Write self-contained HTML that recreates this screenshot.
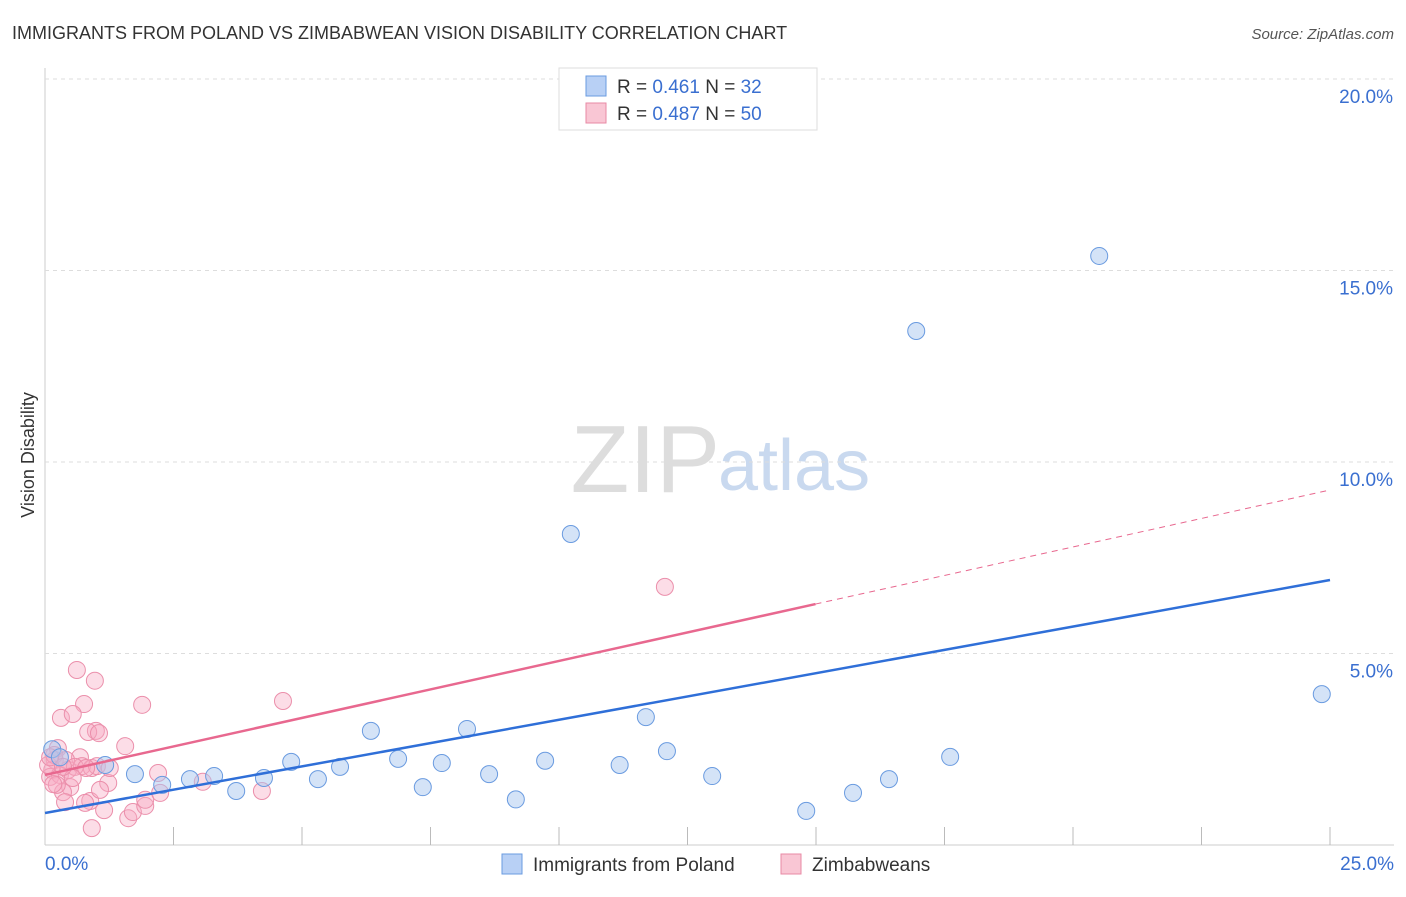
<!DOCTYPE html>
<html><head><meta charset="utf-8"><style>
body{margin:0;background:#fff;font-family:"Liberation Sans",sans-serif;}
svg text{font-family:"Liberation Sans",sans-serif;}
</style></head><body>
<svg id="c" width="1406" height="892">
<text x="12" y="39" font-size="18" fill="#333">IMMIGRANTS FROM POLAND VS ZIMBABWEAN VISION DISABILITY CORRELATION CHART</text>
<text x="1394" y="39" font-size="15" fill="#555" font-style="italic" text-anchor="end">Source: ZipAtlas.com</text>
<text transform="translate(34,455) rotate(-90)" font-size="18" fill="#333" text-anchor="middle">Vision Disability</text>
<text x="720" y="492" font-size="96" fill="#ddd" text-anchor="end" font-family="Liberation Serif">ZIP</text>
<text x="718" y="490" font-size="72" fill="#c9d9ef">atlas</text>
<g id="grid"></g><g id="marks"></g>
<g>
<rect x="559" y="68" width="258" height="62" fill="#fff" stroke="#ddd"/>
<rect x="586" y="76" width="20" height="20" fill="#b8d0f5" stroke="#6a9be0"/>
<text x="617" y="93" font-size="19" fill="#333">R = <tspan fill="#3a6fd0">0.461</tspan>   N = <tspan fill="#3a6fd0">32</tspan></text>
<rect x="586" y="103" width="20" height="20" fill="#f9c6d4" stroke="#e88aa5"/>
<text x="617" y="120" font-size="19" fill="#333">R = <tspan fill="#3a6fd0">0.487</tspan>   N = <tspan fill="#3a6fd0">50</tspan></text>
</g>
<g>
<rect x="502" y="854" width="20" height="20" fill="#b8d0f5" stroke="#6a9be0"/>
<text x="533" y="871" font-size="19" fill="#333">Immigrants from Poland</text>
<rect x="781" y="854" width="20" height="20" fill="#f9c6d4" stroke="#e88aa5"/>
<text x="812" y="871" font-size="19" fill="#333">Zimbabweans</text>
</g>
</svg>
<script>
const yTicks=[5,10,15,20];
const yTickLabels=["5.0%","10.0%","15.0%","20.0%"];
const xLabels=["0.0%","25.0%"];
const polandX=[0.14,0.29,1.17,1.75,2.28,2.82,3.29,3.72,4.26,4.79,5.31,5.74,6.34,6.87,7.35,7.72,8.21,8.64,9.16,9.73,10.23,11.18,11.69,12.10,12.98,14.81,15.72,16.42,16.95,17.61,20.51,24.84];
const polandY=[2.5,2.29,2.09,1.85,1.57,1.72,1.8,1.41,1.75,2.17,1.72,2.04,2.98,2.25,1.51,2.14,3.03,1.85,1.19,2.2,8.12,2.09,3.34,2.45,1.8,0.89,1.36,1.72,13.42,2.3,15.38,3.94];
const zimX=[0.62,0.97,0.76,0.31,0.54,1.89,4.63,1.56,0.99,0.84,1.05,0.68,0.25,0.19,0.14,0.10,0.29,0.45,0.72,0.91,0.49,0.35,0.39,0.88,0.78,1.23,1.15,1.62,0.91,1.71,1.95,1.95,2.20,2.24,3.07,4.22,12.06,0.06,0.18,0.41,0.58,1.01,0.23,0.54,1.26,0.10,0.16,0.35,0.80,1.07];
const zimY=[4.57,4.29,3.68,3.32,3.42,3.66,3.76,2.58,2.98,2.95,2.92,2.29,2.53,2.22,1.96,1.78,1.83,1.96,2.06,2.01,1.51,1.38,1.12,1.15,1.10,1.62,0.91,0.70,0.44,0.86,1.02,1.18,1.88,1.36,1.65,1.41,6.74,2.09,2.35,2.22,2.04,2.06,1.57,1.75,2.01,2.29,1.59,2.04,2.01,1.44];
const polandTrend=[0.836,6.92];
const zimTrend=[1.83,9.27];
const zimSolidEnd=14.99;
const X0=45,X1=1330,Y0=845,PX=38.3;
const sx=v=>X0+(X1-X0)*v/25, sy=v=>Y0-v*PX;
const NS="http://www.w3.org/2000/svg";
function mk(t,a,p){const e=document.createElementNS(NS,t);for(const k in a)e.setAttribute(k,a[k]);p.appendChild(e);return e;}
const g=document.getElementById('grid'),m=document.getElementById('marks');
let ax=mk('line',{x1:X0,y1:68,x2:X0,y2:Y0,stroke:'#ccc'},g);


let bx=mk('line',{x1:X0,y1:Y0,x2:1394,y2:Y0,stroke:'#ccc'},g);


yTicks.forEach((t,i)=>{
 const l=mk('line',{x1:X0,y1:sy(t),x2:1394,y2:sy(t),stroke:'#ddd','stroke-dasharray':'4,4'},g);
 
 
 const tx=mk('text',{x:1393,y:sy(t)+24,'font-size':19,fill:'#3a6fd0','text-anchor':'end'},g);tx.textContent=yTickLabels[i];
 
 
});
for(let i=1;i<=10;i++){const x=X0+i*128.5;const l=mk('line',{x1:x,y1:Y0-18,x2:x,y2:Y0,stroke:'#bbb'},g);
 
 }
[[X0,'start',xLabels[0]],[1394,'end',xLabels[1]]].forEach(([x,a,s])=>{const t=mk('text',{x:x,y:870,'font-size':19,fill:'#3a6fd0','text-anchor':a},g);t.textContent=s;
 
 });
zimX.forEach((x,i)=>{const c=mk('circle',{cx:sx(x),cy:sy(zimY[i]),r:8.5,fill:'rgba(247,170,195,0.4)',stroke:'#eb8fab','stroke-width':1},m);
 
 });
polandX.forEach((x,i)=>{const c=mk('circle',{cx:sx(x),cy:sy(polandY[i]),r:8.5,fill:'rgba(170,200,240,0.5)',stroke:'#6a9be0','stroke-width':1},m);
 
 });
const zf=v=>zimTrend[0]+(zimTrend[1]-zimTrend[0])*v/25;
let l1=mk('line',{x1:sx(0),y1:sy(zimTrend[0]),x2:sx(zimSolidEnd),y2:sy(zf(zimSolidEnd)),stroke:'#e8688f','stroke-width':2.5},m);


let l2=mk('line',{x1:sx(zimSolidEnd),y1:sy(zf(zimSolidEnd)),x2:sx(25),y2:sy(zimTrend[1]),stroke:'#e8688f','stroke-width':1,'stroke-dasharray':'6,5'},m);


let l3=mk('line',{x1:sx(0),y1:sy(polandTrend[0]),x2:sx(25),y2:sy(polandTrend[1]),stroke:'#2f6fd8','stroke-width':2.5},m);


</script>
</body></html>
